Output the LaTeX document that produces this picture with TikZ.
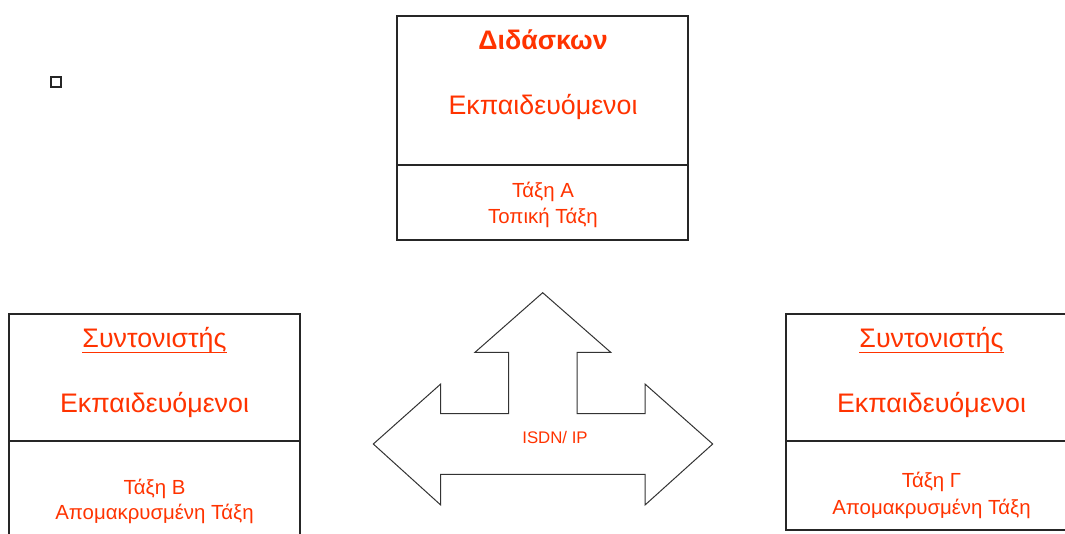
\documentclass[tikz,border=0pt]{standalone}
\usepackage{fontspec}
\setmainfont{Liberation Sans}
\definecolor{labelred}{HTML}{FF3300}
\begin{document}
\begin{tikzpicture}[x=1pt,y=-1pt,
  panel/.style={draw=black!85, line width=1.3pt, inner sep=0pt, outer sep=0pt},
  bigtext/.style={text=labelred, anchor=base, inner sep=0pt, font=\fontsize{26.8}{32}\selectfont},
  headtext/.style={bigtext, font=\bfseries\fontsize{26.8}{32}\selectfont},
  smalltext/.style={text=labelred, anchor=base, inner sep=0pt, font=\fontsize{20.4}{24}\selectfont},
  underrule/.style={draw=labelred, line width=1.8pt},
  netarrow/.style={draw=black!80, line width=1pt, line join=miter, fill=white}]
\useasboundingbox (0,0) rectangle (1065,533);
\clip (0,0) rectangle (1065,533);

% tutor classroom
\path[panel] (397,16) rectangle (688,165) node[midway] (aTop) {};
\path[panel] (397,165) rectangle (688,240) node[midway] (aBot) {};
\node[headtext] (aHead) at (543,49) {Διδάσκων};
\node[bigtext] (aTrain) at (543,114) {Εκπαιδευόμενοι};
\node[smalltext] (aName) at (543,197.5) {Τάξη Α};
\node[smalltext] (aKind) at (543,223.5) {Τοπική Τάξη};

% remote classroom B
\path[panel] (9,314) rectangle (300,441) node[midway] (bTop) {};
\path[panel] (9,441) rectangle (300,560) node[midway] (bBot) {};
\node[bigtext] (bHead) at (154.5,347.5) {Συντονιστής};
\draw[underrule] ([yshift=-5pt]bHead.base west) -- ([yshift=-5pt]bHead.base east);
\node[bigtext] (bTrain) at (154.5,412.5) {Εκπαιδευόμενοι};
\node[smalltext] (bName) at (154.5,494.3) {Τάξη Β};
\node[smalltext] (bKind) at (154.5,519.3) {Απομακρυσμένη Τάξη};

% remote classroom C
\path[panel] (786,314) rectangle (1077,441) node[midway] (cTop) {};
\path[panel] (786,441) rectangle (1077,530) node[midway] (cBot) {};
\node[bigtext] (cHead) at (931.5,347.5) {Συντονιστής};
\draw[underrule] ([yshift=-5pt]cHead.base west) -- ([yshift=-5pt]cHead.base east);
\node[bigtext] (cTrain) at (931.5,412.5) {Εκπαιδευόμενοι};
\node[smalltext] (cName) at (931.5,487.7) {Τάξη Γ};
\node[smalltext] (cKind) at (931.5,514.3) {Απομακρυσμένη Τάξη};

% small marker
\draw[draw=black!85, line width=1.2pt] (51,77) rectangle (61,87);

% three-way network arrow
\draw[netarrow] (542.7,292.7) -- (610.7,352.3) -- (577,352.3) -- (577,413.7)
  -- (645,413.7) -- (645,384) -- (712.7,444) -- (645,505) -- (645,474.3)
  -- (440.7,474.3) -- (440.7,505) -- (373.3,444) -- (440.7,384) -- (440.7,413.7)
  -- (508.7,413.7) -- (508.7,352.3) -- (475,352.3) -- cycle;
\node[text=labelred, inner sep=0pt, font=\fontsize{16.8}{20}\selectfont] (net) at (555,437.5) {ISDN/ IP};
\end{tikzpicture}
\end{document}
